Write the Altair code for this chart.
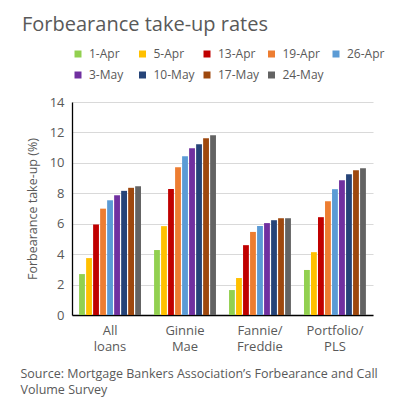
import altair as alt
import pandas as pd

categories = ["All loans", "Ginnie Mae", "Fannie/Freddie", "Portfolio/PLS"]
dates = ["1-Apr", "5-Apr", "13-Apr", "19-Apr", "26-Apr", "3-May", "10-May", "17-May", "24-May"]
all_loans = [2.69, 3.74, 5.95, 6.99, 7.54, 7.87, 8.16, 8.36, 8.47]
ginnie_mae = [4.27, 5.84, 8.28, 9.71, 10.44, 10.96, 11.22, 11.61, 11.82]
fannie_freddie = [1.64, 2.43, 4.59, 5.46, 5.85, 6.04, 6.23, 6.36, 6.36]
portfolio_pls = [2.96, 4.13, 6.43, 7.48, 8.27, 8.86, 9.25, 9.51, 9.65]
colors = ["#92D050", "#FFC000", "#C00000", "#ED7D31", "#5B9BD5",
          "#7030A0", "#264478", "#9E480E", "#636363"]

series = [all_loans, ginnie_mae, fannie_freddie, portfolio_pls]
rows = []
for cat, vals in zip(categories, series):
    for d, v in zip(dates, vals):
        rows.append({"category": cat, "date": d, "value": v})
df = pd.DataFrame(rows)

FONT = "Open Sans"
GREY = "#595959"

chart = alt.Chart(df).mark_bar().encode(
    x=alt.X("category:N", sort=categories,
            scale=alt.Scale(paddingInner=0.165, paddingOuter=0.09),
            axis=alt.Axis(
                title=["Source: Mortgage Bankers Association\u2019s Forbearance and Call",
                       "Volume Survey"],
                titleAnchor="start", titleAlign="left", titleBaseline="top",
                titleX=-52, titleY=52, titleLineHeight=16,
                titleFont=FONT, titleFontSize=12.5, titleFontWeight="normal",
                titleColor=GREY,
                labelExpr="split(replace(datum.label, '/', '/ '), ' ')",
                labelAngle=0, labelFont=FONT, labelFontSize=13, labelColor=GREY,
                labelLineHeight=16, labelPadding=9, ticks=False,
                domainColor="#000000", domainWidth=1.3)),
    xOffset=alt.XOffset("date:N", sort=dates,
                        scale=alt.Scale(paddingInner=0.17, paddingOuter=0.05)),
    y=alt.Y("value:Q", scale=alt.Scale(domain=[0, 14]),
            axis=alt.Axis(title="Forbearance take-up (%)", values=[0, 2, 4, 6, 8, 10, 12, 14],
                          titleFont=FONT, titleFontSize=12.5, titleFontWeight="normal",
                          titleColor=GREY, titlePadding=10,
                          labelFont=FONT, labelFontSize=13, labelColor=GREY,
                          labelPadding=8, ticks=False,
                          gridColor="#D9D9D9", gridWidth=1,
                          domainColor="#000000", domainWidth=1.3)),
    color=alt.Color("date:N", sort=dates,
                    scale=alt.Scale(domain=dates, range=colors),
                    legend=alt.Legend(title=None, orient="none", legendX=0, legendY=-54,
                                      direction="horizontal",
                                      columns=5, gridAlign="all", columnPadding=5.5,
                                      rowPadding=9, symbolType="square", symbolSize=49,
                                      symbolStrokeWidth=0, labelOffset=5, padding=0,
                                      labelFont=FONT, labelFontSize=12, labelColor=GREY)),
).properties(
    width=301, height=213,
    autosize=alt.AutoSizeParams(type="none"),
    padding={"left": 64, "top": 94, "right": 17, "bottom": 92},
    title=alt.TitleParams("Forbearance take-up rates", anchor="start", frame="group",
                          font=FONT, fontSize=20, fontWeight="normal", color=GREY,
                          baseline="alphabetic", offset=19, dx=-50, dy=22),
).configure_view(stroke=None)

chart.save("out.html", embed_options={"renderer": "svg", "actions": False})
